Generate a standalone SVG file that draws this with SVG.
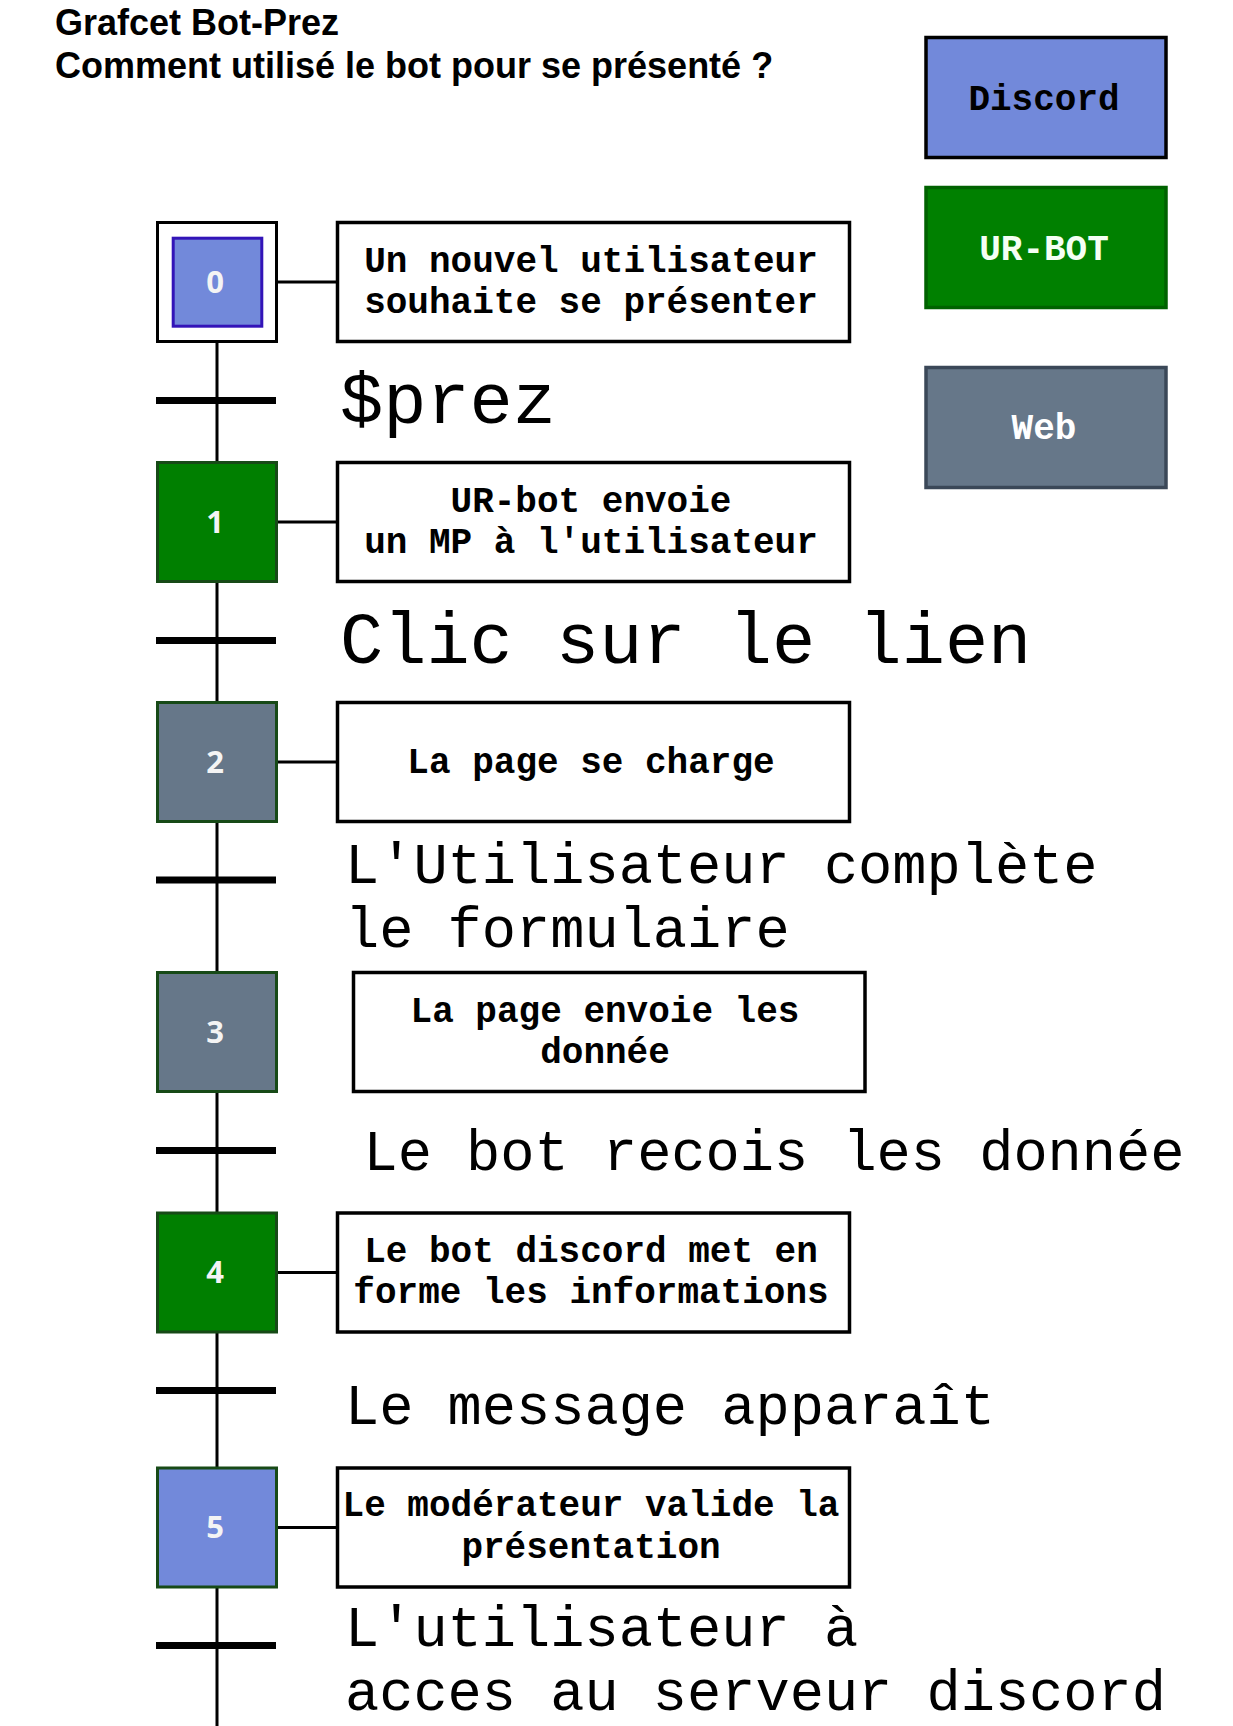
<svg xmlns="http://www.w3.org/2000/svg" width="1233" height="1726" viewBox="0 0 1233 1726">
<style>
.title{font-family:"Liberation Sans",Arial,sans-serif;font-weight:bold;font-size:36px;fill:#000}
.act{fill:#fff;stroke:#000;stroke-width:3.5}
.acttxt{font-family:"Liberation Mono","Courier New",monospace;font-weight:bold;font-size:36px;fill:#000;text-anchor:middle}
.step{stroke:#174a17;stroke-width:3}
.num{font-family:"Open Sans","DejaVu Sans",sans-serif;font-weight:bold;font-size:31px;fill:#f4f4f4;text-anchor:middle}
.bar{stroke:#000;stroke-width:7}
.link{stroke:#000;stroke-width:3;fill:none}
.cond{font-family:"Liberation Mono","Courier New",monospace;fill:#000}
.c72{font-size:72px}
.c57{font-size:57px}
.leg{stroke-width:3.5}
.legtxt{font-family:"Liberation Mono","Courier New",monospace;font-weight:bold;font-size:36px;text-anchor:middle}
.discord{fill:#7289da}
.urbot{fill:#007f00}
.web{fill:#667789}
</style>
<rect x="0" y="0" width="1233" height="1726" fill="#fff"/>

<g id="title">
<text class="title" x="55" y="34.5">Grafcet Bot-Prez</text>
<text class="title" x="55" y="78">Comment utilisé le bot pour se présenté ?</text>
</g>

<g id="legend-discord">
<rect class="leg discord" x="926" y="37.5" width="240" height="120" stroke="#000"/>
<text class="legtxt" x="1044" y="109.5" fill="#000">Discord</text>
</g>
<g id="legend-urbot">
<rect class="leg" x="926" y="187.5" width="240" height="120" fill="#008000" stroke="#006200"/>
<text class="legtxt" x="1044" y="259.5" fill="#f4fff4">UR-BOT</text>
</g>
<g id="legend-web">
<rect class="leg web" x="926" y="367.5" width="240" height="120" stroke="#3b4858"/>
<text class="legtxt" x="1044" y="438.5" fill="#fff">Web</text>
</g>

<g id="connectors">
<line class="link" x1="217" y1="341" x2="217" y2="1726"/>
<line class="link" x1="276" y1="282" x2="337" y2="282"/>
<line class="link" x1="276" y1="522" x2="337" y2="522"/>
<line class="link" x1="276" y1="762" x2="337" y2="762"/>
<line class="link" x1="276" y1="1272.5" x2="337" y2="1272.5"/>
<line class="link" x1="276" y1="1527.5" x2="337" y2="1527.5"/>
</g>

<g id="step0">
<rect x="157.5" y="222.5" width="119" height="119" fill="#fff" stroke="#000" stroke-width="3"/>
<rect x="173.2" y="238.2" width="88.6" height="88" fill="#7289da" stroke="#3314b8" stroke-width="3"/>
<text class="num" x="215" y="292.5">0</text>
</g>
<g id="action0">
<rect class="act" x="337.5" y="222.5" width="512" height="119"/>
<text class="acttxt" x="591" y="272">Un nouvel utilisateur</text>
<text class="acttxt" x="591" y="313">souhaite se présenter</text>
</g>
<g id="transition0">
<line class="bar" x1="156" y1="400.5" x2="276" y2="400.5"/>
<text class="cond c72" x="340" y="422.5">$prez</text>
</g>

<g id="step1">
<rect class="step urbot" x="157.5" y="462.5" width="119" height="119"/>
<text class="num" x="215" y="532.5">1</text>
</g>
<g id="action1">
<rect class="act" x="337.5" y="462.5" width="512" height="119"/>
<text class="acttxt" x="591" y="512">UR-bot envoie</text>
<text class="acttxt" x="591" y="553">un MP à l'utilisateur</text>
</g>
<g id="transition1">
<line class="bar" x1="156" y1="640.5" x2="276" y2="640.5"/>
<text class="cond c72" x="340" y="662.5">Clic sur le lien</text>
</g>

<g id="step2">
<rect class="step web" x="157.5" y="702.5" width="119" height="119"/>
<text class="num" x="215" y="772.5">2</text>
</g>
<g id="action2">
<rect class="act" x="337.5" y="702.5" width="512" height="119"/>
<text class="acttxt" x="591" y="772.5">La page se charge</text>
</g>
<g id="transition2">
<line class="bar" x1="156" y1="880" x2="276" y2="880"/>
<text class="cond c57" x="345" y="882.5">L'Utilisateur complète</text>
<text class="cond c57" x="345" y="947">le formulaire</text>
</g>

<g id="step3">
<rect class="step web" x="157.5" y="972.5" width="119" height="119"/>
<text class="num" x="215" y="1042.5">3</text>
</g>
<g id="action3">
<rect class="act" x="353.5" y="972.5" width="511.5" height="119"/>
<text class="acttxt" x="605" y="1021.5">La page envoie les</text>
<text class="acttxt" x="605" y="1063">donnée</text>
</g>
<g id="transition3">
<line class="bar" x1="156" y1="1150.5" x2="276" y2="1150.5"/>
<text class="cond c57" x="363.5" y="1169.5">Le bot recois les donnée</text>
</g>

<g id="step4">
<rect class="step urbot" x="157.5" y="1213" width="119" height="119"/>
<text class="num" x="215" y="1283">4</text>
</g>
<g id="action4">
<rect class="act" x="337.5" y="1213" width="512" height="119"/>
<text class="acttxt" x="591" y="1262">Le bot discord met en</text>
<text class="acttxt" x="591" y="1303">forme les informations</text>
</g>
<g id="transition4">
<line class="bar" x1="156" y1="1390.5" x2="276" y2="1390.5"/>
<text class="cond c57" x="345" y="1424">Le message apparaît</text>
</g>

<g id="step5">
<rect class="step discord" x="157.5" y="1468" width="119" height="119"/>
<text class="num" x="215" y="1538">5</text>
</g>
<g id="action5">
<rect class="act" x="337.5" y="1468" width="512" height="119"/>
<text class="acttxt" x="591" y="1516">Le modérateur valide la</text>
<text class="acttxt" x="591" y="1557.5">présentation</text>
</g>
<g id="transition5">
<line class="bar" x1="156" y1="1645.5" x2="276" y2="1645.5"/>
<text class="cond c57" x="345" y="1646">L'utilisateur à</text>
<text class="cond c57" x="345" y="1710">acces au serveur discord</text>
</g>
</svg>
